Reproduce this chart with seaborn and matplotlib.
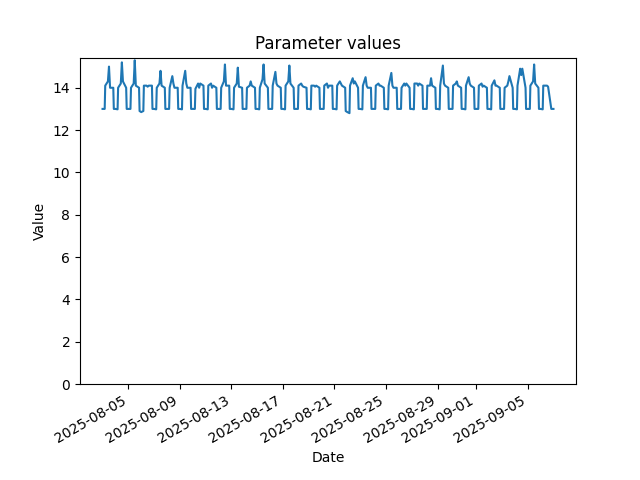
import matplotlib
matplotlib.use("Agg")
import matplotlib.pyplot as plt
import seaborn as sns
import pandas as pd
import numpy as np

# Readings per day, taken at these hours of the day (from 2025-08-03)
sample_hours = [0, 4, 5, 10, 12, 14, 20, 21]
start_day = "2025-08-03"

week1 = [  # 08-03 .. 08-09
    13.0, 13.0, 14.1, 14.3, 15.0, 14.0, 14.0, 13.0,
    13.0, 12.98, 14.0, 14.2, 15.2, 14.3, 14.0, 13.0,
    13.0, 13.0, 14.0, 14.2, 15.3, 14.1, 14.0, 12.9,
    12.85, 12.9, 14.1, 14.1, 14.05, 14.1, 14.1, 13.0,
    13.0, 12.98, 14.0, 14.2, 14.8, 14.1, 14.0, 13.0,
    13.0, 13.0, 14.0, 14.55, 14.2, 14.0, 14.0, 13.0,
    13.0, 12.98, 14.1, 14.8, 14.2, 14.0, 14.0, 13.0,
]
week2 = [  # 08-10 .. 08-16
    13.0, 13.0, 13.95, 14.2, 14.0, 14.2, 14.1, 13.0,
    13.0, 12.98, 14.1, 14.2, 14.0, 14.1, 14.0, 13.0,
    13.0, 13.0, 14.0, 14.3, 15.1, 14.1, 14.1, 13.0,
    13.0, 12.98, 14.0, 14.2, 14.95, 14.05, 14.0, 13.0,
    13.0, 13.0, 14.0, 14.1, 14.3, 14.1, 14.0, 13.0,
    13.0, 12.98, 14.0, 14.4, 15.1, 14.2, 14.0, 13.0,
    13.0, 13.0, 14.1, 14.75, 14.2, 14.1, 14.0, 13.0,
]
week3 = [  # 08-17 .. 08-23
    13.0, 12.98, 14.1, 14.3, 15.05, 14.2, 14.0, 13.0,
    13.0, 13.0, 14.1, 14.2, 14.1, 14.05, 14.0, 13.0,
    13.0, 12.98, 14.1, 14.1, 14.05, 14.1, 14.0, 13.0,
    13.0, 13.0, 14.1, 14.2, 14.0, 14.1, 14.1, 13.0,
    13.0, 12.98, 14.1, 14.3, 14.2, 14.1, 14.0, 12.9,
    12.85, 12.8, 14.1, 14.45, 14.2, 14.3, 14.0, 13.0,
    13.0, 12.98, 14.1, 14.5, 14.1, 14.0, 14.0, 13.0,
]
week4 = [  # 08-24 .. 08-30
    13.0, 13.0, 14.1, 14.2, 14.1, 14.1, 14.0, 13.0,
    13.0, 12.98, 14.1, 14.7, 14.1, 14.0, 14.0, 13.0,
    13.0, 13.0, 14.0, 14.2, 14.1, 14.2, 14.0, 13.0,
    13.0, 12.98, 14.2, 14.2, 14.1, 14.2, 14.1, 13.0,
    13.0, 13.0, 14.1, 14.1, 14.45, 14.1, 14.0, 13.0,
    13.0, 12.98, 14.1, 15.05, 14.2, 14.1, 14.0, 13.0,
    13.0, 13.0, 14.1, 14.2, 14.3, 14.1, 14.0, 13.0,
]
week5 = [  # 08-31 .. 09-06
    13.0, 12.98, 14.1, 14.5, 14.2, 14.1, 14.0, 13.0,
    13.0, 13.0, 14.1, 14.2, 14.05, 14.1, 14.0, 13.0,
    13.0, 12.98, 14.1, 14.35, 14.1, 14.1, 14.0, 13.0,
    13.0, 13.0, 14.0, 14.1, 14.3, 14.55, 14.0, 13.0,
    13.0, 12.98, 14.1, 14.9, 14.6, 14.9, 14.0, 13.0,
    13.0, 13.0, 14.1, 14.3, 15.1, 14.2, 14.0, 13.0,
    13.0, 12.98, 14.1, 14.1, 14.1, 14.05, 13.0, 13.0,
]
last_value = [13.0]  # 2025-09-07 00:00

values = week1 + week2 + week3 + week4 + week5 + last_value

n_days = (len(values) - 1) // len(sample_hours)
days = pd.date_range(start_day, periods=n_days, freq="D")
stamps = [d + pd.Timedelta(hours=h) for d in days for h in sample_hours]
stamps.append(days[-1] + pd.Timedelta(days=1))
df = pd.DataFrame({"Date": pd.to_datetime(stamps), "Value": values})

fig, ax = plt.subplots(figsize=(6.4, 4.8), dpi=100)
sns.lineplot(data=df, x="Date", y="Value", ax=ax, color="#1f77b4", linewidth=1.5)
ax.set_ylim(bottom=0)
ax.set_title("Parameter values")
ax.set_xlabel("Date")
ax.set_ylabel("Value")
fig.autofmt_xdate()
fig.savefig("out.png", dpi=100)
